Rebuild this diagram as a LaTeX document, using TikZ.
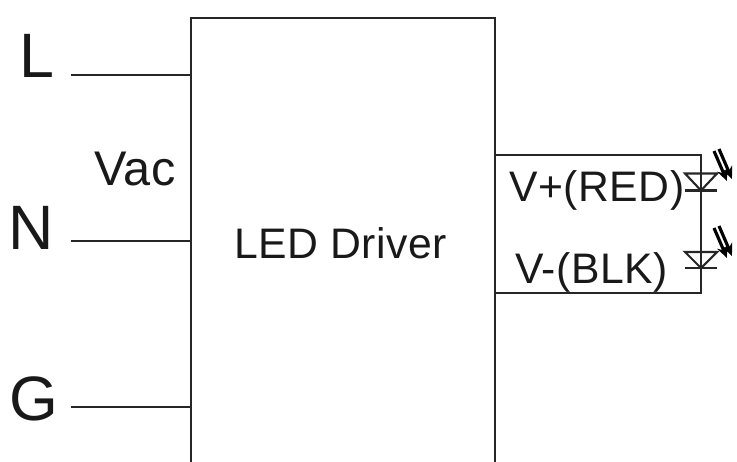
\documentclass[tikz,border=0pt]{standalone}
\usepackage{fontspec}
\setmainfont{Liberation Sans}
\usetikzlibrary{arrows.meta}
\tikzset{
  wire/.style={draw=black!85,line width=1.2pt},
  ledtext/.style={inner sep=0pt,text=black!90,font=\fontsize{24.3}{24.3}\selectfont\addfontfeature{LetterSpace=1.2}},
  linetext/.style={inner sep=0pt,text=black!90,font=\fontsize{35.7}{35.7}\selectfont},
  ray/.style={draw=black,line width=1.8pt,-{Stealth[length=7pt,width=6pt]}}
}
\begin{document}
\begin{tikzpicture}[x=0.02cm,y=-0.02cm]
      \useasboundingbox (0,0) rectangle (737,461);
      \clip (0,0) rectangle (737,461);
      \node[draw=black!85,line width=1.2pt,minimum width=304*0.02cm,minimum height=582*0.02cm,inner sep=0pt] (driver) at (343,309) {};
      \node[ledtext] (drivertext) at (340.5,243) {LED Driver};
      \node[linetext,anchor=base] (ltext) at (36.5,77) {L};
      \node[linetext,anchor=base] (ntext) at (31.5,249) {N};
      \node[linetext,anchor=base] (gtext) at (34,420) {G};
      \node[inner sep=0pt,text=black!90,font=\fontsize{27.7}{27.7}\selectfont\addfontfeature{LetterSpace=1.5},anchor=base] (vac) at (135,185) {Vac};
      \node[ledtext,anchor=base] (vplus) at (597,201) {V+(RED)};
      \node[ledtext,anchor=base] (vminus) at (591.5,283) {V-(BLK)};
      \coordinate (lend) at (71,75);
      \coordinate (nend) at (71,241);
      \coordinate (gend) at (71,407);
      \draw[wire] (lend) -- (driver.west |- lend);
      \draw[wire] (nend) -- (driver.west |- nend);
      \draw[wire] (gend) -- (driver.west |- gend);
      % output loop
      \coordinate (outtop) at (701,155);
      \coordinate (outbot) at (701,293);
      \draw[wire] (driver.east |- outtop) -- (outtop) -- (outbot) -- (driver.east |- outbot);
      % first led
      \draw[wire] (685,173.5) -- (717,173.5) -- (701,190.5) -- cycle;
      \draw[wire] (685,190.5) -- (717,190.5);
      \draw[ray] (714,151) -- (727,181);
      \draw[ray] (719,149) -- (732,179);
      % second led
      \draw[wire] (685,252) -- (717,252) -- (701,268) -- cycle;
      \draw[wire] (685,268) -- (717,268);
      \draw[ray] (714,228) -- (727,258);
      \draw[ray] (719,226) -- (732,256);
\end{tikzpicture}
\end{document}
